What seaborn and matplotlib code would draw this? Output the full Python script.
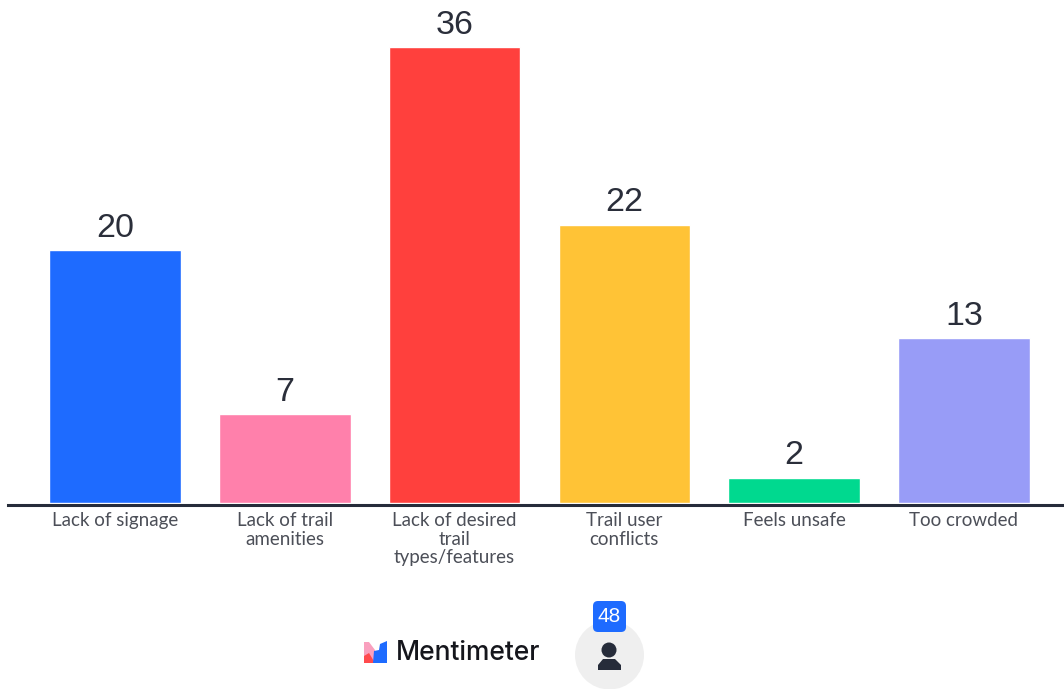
#coding = utf-8
import seaborn as sns
import pandas as pd
import matplotlib
matplotlib.use('Agg')
import matplotlib.pyplot as plt
from matplotlib.patches import Circle, FancyBboxPatch, Polygon

#数据准备
categories = ['Lack of signage', 'Lack of trail\namenities', 'Lack of desired\ntrail\ntypes/features',
              'Trail user\nconflicts', 'Feels unsafe', 'Too crowded']
votes = [20, 7, 36, 22, 2, 13]
colors = ['#1E6BFF', '#FF80AB', '#FF403D', '#FFC336', '#00D98F', '#989CF7']
participants = 48

sns.set_theme(style='white')
plt.rcParams['font.family'] = ['Lato', 'DejaVu Sans']

df = pd.DataFrame({'category': categories, 'votes': votes})

fig = plt.figure(figsize=(10.64, 6.89), dpi=100)
ax = fig.add_axes([8 / 1064, 1 - 505 / 689, 1056 / 1064, 505 / 689])

#柱状图
sns.barplot(data=df, x='category', y='votes', hue='category', palette=colors,
            legend=False, width=0.775, saturation=1, ax=ax)
ax.set_xlim(-0.630, 5.589)
ax.set_ylim(-0.158, 39.75)
ax.set_xlabel('')
ax.set_ylabel('')
ax.set_yticks([])
sns.despine(ax=ax, left=True)
ax.spines['bottom'].set_linewidth(2.2)
ax.spines['bottom'].set_color('#262C3A')
ax.tick_params(axis='x', length=0, pad=5, labelsize=13.5, labelcolor='#4C4F58')
for label in ax.get_xticklabels():
    label.set_linespacing(1.12)
    label.set_va('top')

for i, v in enumerate(votes):
    ax.annotate(str(v), (i, v), xytext=(0, 4.5), textcoords='offset points',
                ha='center', va='bottom', fontsize=24.5, color='#2A2E3A', family='Liberation Sans')

#底部标志和人数
foot = fig.add_axes([0, 0, 1, 1], facecolor='none')
foot.set_xlim(0, 1064)
foot.set_ylim(689, 0)
foot.axis('off')

foot.add_patch(Polygon([(364, 642), (369, 642), (375, 650), (378, 663), (364, 663)], color='#F9A0BE', lw=0))
foot.add_patch(Polygon([(364, 656), (369, 653), (375, 663), (364, 663)], color='#FF4A4D', lw=0))
foot.add_patch(Polygon([(373, 663), (374, 651), (379, 650), (380, 644), (387, 641), (387, 663)],
                       color='#1E6BFF', lw=0))
foot.text(395.5, 653, 'Mentimeter', fontsize=19, color='#15161C', ha='left', va='center',
          family='Inter', weight='medium')

foot.add_patch(Circle((609.5, 655), 34.5, color='#EFEFEF', lw=0))
foot.add_patch(FancyBboxPatch((597, 605), 25, 23, boxstyle='round,pad=4,rounding_size=5',
                              color='#1E6BFF', lw=0))
foot.text(609.5, 617, str(participants), fontsize=15, color='white', ha='center', va='center',
          family='Liberation Sans')
foot.add_patch(Circle((609, 650), 7.5, color='#262C3A', lw=0))
foot.add_patch(Polygon([(598, 670), (598, 665), (603, 659), (615, 659), (621, 665), (621, 670)],
                       color='#262C3A', lw=0))

fig.savefig('out.png', dpi=100)
